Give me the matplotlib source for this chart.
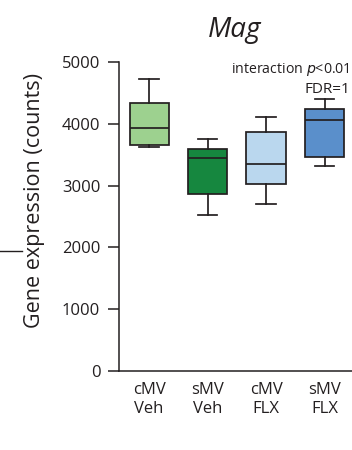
import matplotlib
matplotlib.use("Agg")
import matplotlib.pyplot as plt
from matplotlib.lines import Line2D

plt.rcParams['font.family'] = ['Open Sans', 'DejaVu Sans']

categories = ["cMV\nVeh", "sMV\nVeh", "cMV\nFLX", "sMV\nFLX"]
whislo = [3630, 2520, 2700, 3310]
q1 = [3650, 2860, 3025, 3470]
med = [3925, 3440, 3345, 4060]
q3 = [4335, 3600, 3860, 4240]
whishi = [4730, 3750, 4110, 4405]
colors = ["#9dd18f", "#16873f", "#bad7ee", "#5a8fcb"]
yticks = [0, 1000, 2000, 3000, 4000, 5000]

W, H = 352, 450
ink = "#231f20"
fig = plt.figure(figsize=(W / 100, H / 100), dpi=100)
ax = fig.add_axes([119 / W, 79 / H, 233 / W, 309 / H])

stats = []
for i in range(len(categories)):
    stats.append(dict(whislo=whislo[i], q1=q1[i], med=med[i], q3=q3[i],
                      whishi=whishi[i], fliers=[], label=categories[i]))

lw = 1.25
bp = ax.bxp(stats, positions=[1, 2, 3, 4], widths=0.667, patch_artist=True,
            showfliers=False,
            boxprops=dict(linewidth=lw, edgecolor=ink),
            medianprops=dict(linewidth=lw, color=ink),
            whiskerprops=dict(linewidth=lw, color=ink),
            capprops=dict(linewidth=lw, color=ink),
            capwidths=0.34)
for patch, c in zip(bp['boxes'], colors):
    patch.set_facecolor(c)

ax.set_xlim(0.487, 4.47)
ax.set_ylim(0, 5000)
ax.set_yticks(yticks)
ax.set_yticklabels([str(v) for v in yticks], fontsize=12, color=ink)
ax.set_xticks([1, 2, 3, 4])
ax.set_xticklabels(categories, fontsize=12, color=ink, linespacing=1.25)
ax.tick_params(axis='y', length=8, width=1.1, pad=5.5, color=ink)
ax.tick_params(axis='x', length=0, pad=8)
for s in ['top', 'right']:
    ax.spines[s].set_visible(False)
for s in ['left', 'bottom']:
    ax.spines[s].set_linewidth(1.1)
    ax.spines[s].set_color(ink)

fig.text(34.5 / W, 1 - 201 / H, "Gene expression (counts)", rotation=90,
         ha='center', va='center', fontsize=15.5, color=ink)
fig.text(235 / W, 1 - 37 / H, "Mag", style='italic', ha='center',
         va='baseline', fontsize=20, color=ink)
fig.text(350 / W, 1 - 73 / H, "interaction $\\it{p}$<0.01", ha='right',
         va='baseline', fontsize=10.2, color=ink)
fig.text(350 / W, 1 - 93 / H, "FDR=1", ha='right', va='baseline',
         fontsize=11, color=ink)
fig.add_artist(Line2D([0, 22 / W], [1 - 251 / H, 1 - 251 / H],
                      transform=fig.transFigure, color=ink, linewidth=1.0))

fig.savefig("out.png", dpi=100)
